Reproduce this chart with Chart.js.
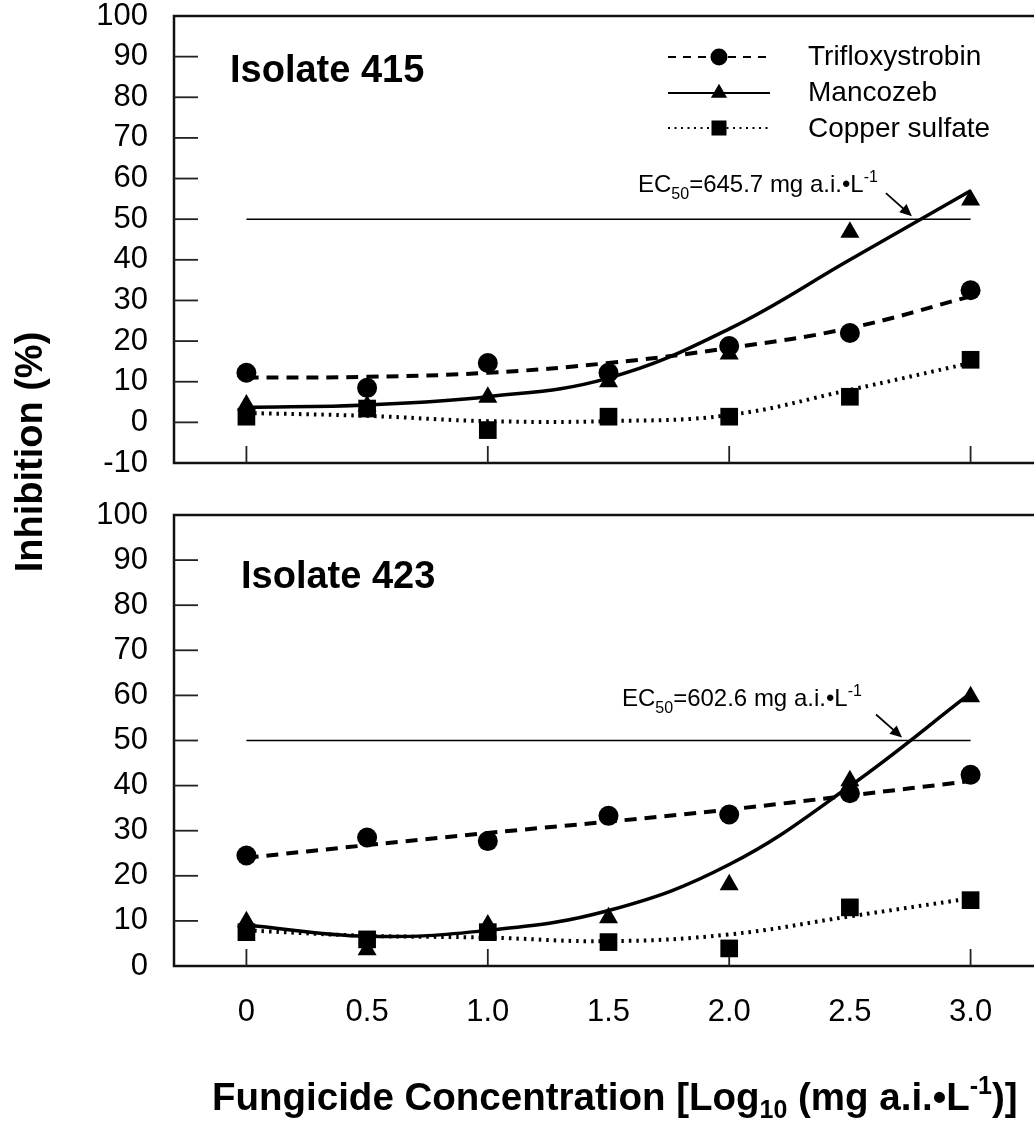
<!DOCTYPE html>
<html>
<head>
<meta charset="utf-8">
<script src="https://cdn.jsdelivr.net/npm/chart.js@4/dist/chart.umd.min.js"></script>
<style>
html,body{margin:0;padding:0;background:#fff;overflow:hidden;width:1034px;height:1127px;}
canvas{position:absolute;left:0;top:0;}
</style>
</head>
<body>
<canvas id="panelTop" width="1060" height="1127"></canvas>
<canvas id="panelBottom" width="1060" height="1127"></canvas>
<script>
// ---------------- DATA ----------------
const concentrations = [0, 0.5, 1.0, 1.5, 2.0, 2.5, 3.0];   // log10 mg a.i./L
const xTickValues = [0, 0.5, 1.0, 1.5, 2.0, 2.5, 3.0];
const xMajorTicks = [0, 1.0, 2.0, 3.0];
const yTicksTop = [-10, 0, 10, 20, 30, 40, 50, 60, 70, 80, 90, 100];
const yTicksBottom = [0, 10, 20, 30, 40, 50, 60, 70, 80, 90, 100];
const seriesNames = ['Trifloxystrobin', 'Mancozeb', 'Copper sulfate'];
const panelTitles = ['Isolate 415', 'Isolate 423'];
const referenceLevel = 50;

// Isolate 415 — observed inhibition (%)
const trifloxy415 = [12.2, 8.5, 14.6, 12.2, 18.8, 22.0, 32.5];
const mancozeb415 = [4.3, 4.0, 6.2, 10.0, 16.8, 46.8, 54.7];
const copper415   = [1.4, 3.4, -1.9, 1.4, 1.4, 6.3, 15.4];
// Isolate 415 — fitted curves
const trifloxyFit415 = [11.0, 11.2, 12.2, 14.6, 18.3, 23.2, 31.0];
const mancozebFit415 = [3.7, 4.3, 6.3, 10.9, 23.0, 40.0, 57.0];
const copperFit415   = [2.3, 1.6, 0.3, 0.3, 1.8, 8.0, 14.6];

// Isolate 423 — observed inhibition (%)
const trifloxy423 = [24.5, 28.5, 27.7, 33.3, 33.6, 38.3, 42.4];
const mancozeb423 = [9.8, 3.6, 9.1, 10.7, 18.0, 41.1, 59.7];
const copper423   = [7.5, 5.9, 7.5, 5.3, 3.9, 13.0, 14.6];
// Isolate 423 — fitted curves
const trifloxyFit423 = [24.0, 26.8, 29.5, 32.0, 34.7, 37.8, 41.0];
const mancozebFit423 = [9.1, 6.6, 7.9, 12.3, 22.5, 39.9, 60.5];
const copperFit423   = [7.9, 6.7, 6.3, 5.5, 7.0, 11.0, 15.0];

// EC50 annotations
const ec50Values = ['645.7', '602.6'];
const ec50Crossing = [2.757, 2.716];   // log10 position where fitted Mancozeb crosses 50 %

// ---------------- STYLE ----------------
const FONT = "'Liberation Sans', Arial, Helvetica, sans-serif";
const INK = '#000';
const seriesStyle = [
  {pointStyle: 'circle',   radius: 10, fitWidth: 4,   fitDash: [12, 8], legendDash: [8, 7]},
  {pointStyle: 'triangle', radius: 11, fitWidth: 3.5, fitDash: [],      legendDash: []},
  {pointStyle: 'rect',     radius: 12.5, fitWidth: 4, fitDash: [2.5, 5], legendDash: [2, 4.5]}
];

function toXY(vals) { return concentrations.map((c, i) => ({x: c, y: vals[i]})); }

function buildDatasets(obs, fits) {
  const ds = [];
  obs.forEach((vals, i) => ds.push({
    label: seriesNames[i], data: toXY(vals), showLine: false,
    pointStyle: seriesStyle[i].pointStyle, pointRadius: seriesStyle[i].radius,
    pointBackgroundColor: INK, pointBorderColor: INK, pointBorderWidth: 0
  }));
  fits.forEach((vals, i) => ds.push({
    label: seriesNames[i] + ' fit', data: toXY(vals), showLine: true,
    borderColor: INK, borderWidth: seriesStyle[i].fitWidth, borderDash: seriesStyle[i].fitDash,
    borderCapStyle: 'butt', pointRadius: 0, tension: 0.4, fill: false
  }));
  ds.push({
    label: '50 %', data: [{x: concentrations[0], y: referenceLevel}, {x: concentrations[concentrations.length - 1], y: referenceLevel}],
    showLine: true, borderColor: INK, borderWidth: 1.6, pointRadius: 0, fill: false
  });
  return ds;
}

function rich(ctx, x, y, parts) {
  let cx = x;
  for (const [t, font, dy] of parts) {
    ctx.font = font;
    ctx.fillText(t, cx, y + dy);
    cx += ctx.measureText(t).width;
  }
  return cx;
}

function arrow(ctx, x1, y1, x2, y2) {
  const ang = Math.atan2(y2 - y1, x2 - x1);
  const L = 12, W = 5.5;
  ctx.beginPath();
  ctx.moveTo(x1, y1);
  ctx.lineTo(x2 - Math.cos(ang) * L * 0.8, y2 - Math.sin(ang) * L * 0.8);
  ctx.lineWidth = 1.8; ctx.stroke();
  ctx.beginPath();
  ctx.moveTo(x2, y2);
  ctx.lineTo(x2 - Math.cos(ang) * L + Math.sin(ang) * W, y2 - Math.sin(ang) * L - Math.cos(ang) * W);
  ctx.lineTo(x2 - Math.cos(ang) * L - Math.sin(ang) * W, y2 - Math.sin(ang) * L + Math.cos(ang) * W);
  ctx.closePath(); ctx.fill();
}

const framePlugin = {
  id: 'frame',
  beforeDatasetsDraw(chart) {
    const {ctx, chartArea: a, scales: {x, y}} = chart;
    ctx.save();
    ctx.strokeStyle = '#111';
    ctx.lineWidth = 2.5;
    ctx.beginPath();
    ctx.moveTo(a.right + 20, a.top);
    ctx.lineTo(a.left, a.top);
    ctx.lineTo(a.left, a.bottom);
    ctx.lineTo(a.right + 20, a.bottom);
    ctx.stroke();
    ctx.lineWidth = 1.8;
    ctx.strokeStyle = '#222';
    y.ticks.forEach(t => {
      const py = y.getPixelForValue(t.value);
      if (py <= a.top + 2 || py >= a.bottom - 2) return;
      ctx.beginPath(); ctx.moveTo(a.left, py); ctx.lineTo(a.left + 24, py); ctx.stroke();
    });
    xMajorTicks.forEach(v => {
      const px = x.getPixelForValue(v);
      ctx.beginPath(); ctx.moveTo(px, a.bottom); ctx.lineTo(px, a.bottom - 17); ctx.stroke();
    });
    ctx.restore();
  }
};

function annotPlugin(idx) {
  return {
    id: 'annot' + idx,
    afterDraw(chart) {
      const {ctx, scales: {x, y}} = chart;
      ctx.save();
      ctx.fillStyle = INK; ctx.strokeStyle = INK;
      ctx.textBaseline = 'alphabetic'; ctx.textAlign = 'left';
      // panel title
      ctx.font = 'bold 38px ' + FONT;
      if (idx === 0) ctx.fillText(panelTitles[0], 230, 82);
      else ctx.fillText(panelTitles[1], 241, 588);
      // EC50 annotation
      const tipX = x.getPixelForValue(ec50Crossing[idx]);
      const tipY = y.getPixelForValue(referenceLevel) - 3;
      const tx = idx === 0 ? 638 : 622;
      const ty = idx === 0 ? 192 : 706;
      rich(ctx, tx, ty, [
        ['EC', '24px ' + FONT, 0],
        ['50', '16px ' + FONT, 7],
        ['=' + ec50Values[idx] + ' mg a.i.\u2022L', '24px ' + FONT, 0],
        ['-1', '16px ' + FONT, -10]
      ]);
      arrow(ctx, tipX - 26, tipY - 23, tipX, tipY);

      if (idx === 0) {
        // legend
        const rowsY = [57, 93, 128];
        const baseY = [65, 101, 137];
        seriesNames.forEach((name, i) => {
          const st = seriesStyle[i];
          ctx.save();
          ctx.lineWidth = 2; ctx.setLineDash(st.legendDash);
          ctx.beginPath(); ctx.moveTo(668, rowsY[i]); ctx.lineTo(770, rowsY[i]); ctx.stroke();
          ctx.restore();
          Chart.helpers.drawPoint(ctx, {pointStyle: st.pointStyle, rotation: 0, radius: st.radius * 0.85, borderWidth: 0}, 719, rowsY[i]);
          ctx.font = '28px ' + FONT;
          ctx.fillText(name, 808, baseY[i]);
        });
        // y axis title
        ctx.save();
        ctx.translate(42, 452);
        ctx.rotate(-Math.PI / 2);
        ctx.textAlign = 'center';
        ctx.font = 'bold 38px ' + FONT;
        ctx.fillText('Inhibition (%)', 0, 0);
        ctx.restore();
      } else {
        // x axis title
        const B = 'bold 38.5px ' + FONT, S = 'bold 25px ' + FONT;
        rich(ctx, 212, 1110, [
          ['Fungicide Concentration [Log', B, 0],
          ['10', S, 8],
          [' (mg a.i.\u2022L', B, 0],
          ['-1', S, -16],
          [')]', B, 0]
        ]);
      }
      ctx.restore();
    }
  };
}

function makeChart(canvasId, idx, obs, fits, yMin, yTicks, pad, xHeight) {
  return new Chart(document.getElementById(canvasId), {
    type: 'line',
    data: {datasets: buildDatasets(obs, fits)},
    options: {
      responsive: false, animation: false, events: [],
      layout: {padding: pad},
      plugins: {legend: {display: false}, tooltip: {enabled: false}},
      scales: {
        x: {
          type: 'linear', min: -0.3, max: 3.3,
          afterBuildTicks: s => { s.ticks = xTickValues.map(v => ({value: v})); },
          afterFit: s => { s.height = xHeight; s.paddingLeft = 0; s.paddingRight = 0; },
          grid: {display: false}, border: {display: false},
          ticks: {
            display: idx === 1, autoSkip: false, maxRotation: 0, padding: 20,
            color: INK, font: {family: FONT, size: 31},
            callback: v => v === 0 ? '0' : Number(v).toFixed(1)
          }
        },
        y: {
          type: 'linear', min: yMin, max: 100,
          afterBuildTicks: s => { s.ticks = yTicks.map(v => ({value: v})); },
          afterFit: s => { s.width = 174; s.paddingTop = 0; s.paddingBottom = 0; },
          grid: {display: false}, border: {display: false},
          ticks: {padding: 18, color: INK, font: {family: FONT, size: 31}}
        }
      }
    },
    plugins: [framePlugin, annotPlugin(idx)]
  });
}

makeChart('panelTop', 0, [trifloxy415, mancozeb415, copper415], [trifloxyFit415, mancozebFit415, copperFit415],
  -10, yTicksTop, {left: 0, right: 17, top: 16, bottom: 664}, 0);
makeChart('panelBottom', 1, [trifloxy423, mancozeb423, copper423], [trifloxyFit423, mancozebFit423, copperFit423],
  0, yTicksBottom, {left: 0, right: 17, top: 515, bottom: 0}, 161);
</script>
</body>
</html>
